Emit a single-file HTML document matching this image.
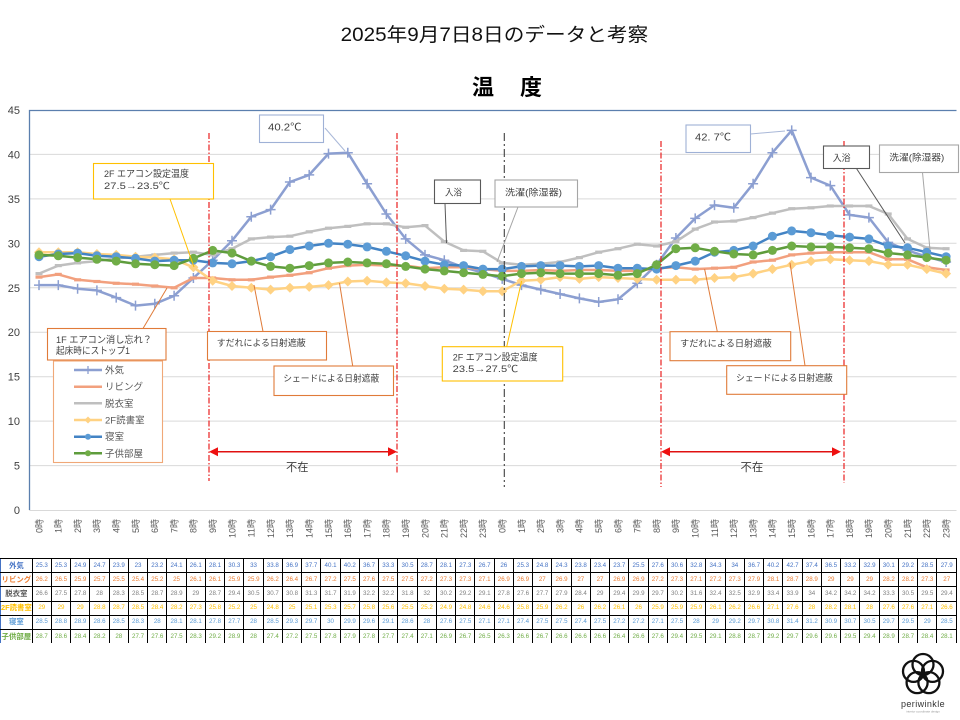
<!DOCTYPE html>
<html><head><meta charset="utf-8">
<style>
body{margin:0;width:960px;height:720px;background:#fff;overflow:hidden;position:relative;font-family:"Liberation Sans","Noto Sans CJK JP",sans-serif}
svg{position:absolute;left:0;top:0}
table{position:absolute;left:0;top:558px;width:957px;table-layout:fixed;border-collapse:collapse}
td{border:1px solid #000;padding:0;height:13.2px;text-align:center;font-size:6.2px;line-height:12px;white-space:nowrap;overflow:hidden;font-family:"Liberation Sans","Noto Sans CJK JP",sans-serif}
td.h{font-weight:bold;font-size:7.4px;border-left:1px solid #4472c4}
tr.z td{border-bottom:none}
tr.a td{color:#4472c4}
tr.b td{color:#ed7d31}
tr.c td{color:#808080}
tr.c td.h{color:#595959}
tr.d td{color:#ffc000}
tr.e td{color:#5b9bd5}
tr.f td{color:#70ad47}
</style></head><body>
<svg width="960" height="720" viewBox="0 0 960 720" xmlns="http://www.w3.org/2000/svg" font-family="'Liberation Sans','Noto Sans CJK JP',sans-serif">
<defs>
<marker id="mp" markerUnits="userSpaceOnUse" markerWidth="12" markerHeight="12" refX="6" refY="6" overflow="visible"><path d="M1 6H11M6 1V11" stroke="#8c9fd1" stroke-width="1.5" fill="none"/></marker>
<marker id="mdo" markerUnits="userSpaceOnUse" markerWidth="12" markerHeight="12" refX="6" refY="6" overflow="visible"><path d="M2.5 6H9.5" stroke="#f2a07e" stroke-width="3.2"/></marker>
<marker id="mdg" markerUnits="userSpaceOnUse" markerWidth="12" markerHeight="12" refX="6" refY="6" overflow="visible"><path d="M2.5 6H9.5" stroke="#bfbfbf" stroke-width="3.2"/></marker>
<marker id="mdi" markerUnits="userSpaceOnUse" markerWidth="12" markerHeight="12" refX="6" refY="6" overflow="visible"><path d="M6 1L11 6L6 11L1 6Z" fill="#ffd283"/></marker>
<marker id="mcb" markerUnits="userSpaceOnUse" markerWidth="12" markerHeight="12" refX="6" refY="6" overflow="visible"><circle cx="6" cy="6" r="4.5" fill="#5b9bd5"/></marker>
<marker id="mcg" markerUnits="userSpaceOnUse" markerWidth="12" markerHeight="12" refX="6" refY="6" overflow="visible"><circle cx="6" cy="6" r="4.5" fill="#70ad47"/></marker>
</defs>

<!-- titles -->
<text x="340.7" y="41" font-size="19" fill="#111" textLength="307.6" lengthAdjust="spacingAndGlyphs">2025年9月7日8日のデータと考察</text>
<text x="472" y="95" font-size="22" font-weight="bold" fill="#000">温</text>
<text x="520" y="95" font-size="22" font-weight="bold" fill="#000">度</text>

<!-- gridlines -->
<g stroke="#d9d9d9" stroke-width="1">
<line x1="29.3" y1="154.4" x2="956.5" y2="154.4"/>
<line x1="29.3" y1="198.9" x2="956.5" y2="198.9"/>
<line x1="29.3" y1="243.3" x2="956.5" y2="243.3"/>
<line x1="29.3" y1="287.8" x2="956.5" y2="287.8"/>
<line x1="29.3" y1="332.2" x2="956.5" y2="332.2"/>
<line x1="29.3" y1="376.7" x2="956.5" y2="376.7"/>
<line x1="29.3" y1="421.1" x2="956.5" y2="421.1"/>
<line x1="29.3" y1="465.6" x2="956.5" y2="465.6"/>
<line x1="29.3" y1="510.5" x2="956.5" y2="510.5"/>
</g>
<path d="M29.5 510V110.5H956.5" stroke="#5b7fae" stroke-width="1.3" fill="none"/>

<!-- y labels -->
<g font-size="11" fill="#404040" text-anchor="end">
<text x="20" y="114">45</text>
<text x="20" y="158.4">40</text>
<text x="20" y="202.9">35</text>
<text x="20" y="247.3">30</text>
<text x="20" y="291.8">25</text>
<text x="20" y="336.2">20</text>
<text x="20" y="380.7">15</text>
<text x="20" y="425.1">10</text>
<text x="20" y="469.6">5</text>
<text x="20" y="514">0</text>
</g>

<!-- series -->
<g fill="none" stroke-width="2.5" stroke-linejoin="round">
<polyline stroke="#8c9fd1" marker-start="url(#mp)" marker-mid="url(#mp)" marker-end="url(#mp)" points="39,285.1 58.3,285.1 77.6,288.7 96.9,290.4 116.2,297.6 135.5,305.6 154.8,303.8 174.1,295.8 193.4,278 212.7,260.2 232,240.7 251.3,216.7 270.6,209.6 289.9,182 309.2,174.9 328.5,153.6 347.8,152.7 367.1,183.8 386.4,214 405.7,238.9 425,254.9 444.3,260.2 463.6,267.3 482.9,272.7 502.2,278.9 521.5,285.1 540.8,289.6 560.1,294 579.4,298.4 598.7,302 618,299.3 637.3,283.3 656.6,264.7 675.9,238 695.2,218.4 714.5,205.1 733.8,207.8 753.1,183.8 772.4,152.7 791.7,130.4 811,177.6 830.3,185.6 849.6,214.9 868.9,217.6 888.2,242.4 907.5,250.4 926.8,256.7 946.1,262"/>
<polyline stroke="#f2a07e" marker-start="url(#mdo)" marker-mid="url(#mdo)" marker-end="url(#mdo)" points="39,277.1 58.3,274.4 77.6,279.8 96.9,281.5 116.2,283.3 135.5,284.2 154.8,286 174.1,287.8 193.4,278 212.7,278 232,279.8 251.3,279.8 270.6,277.1 289.9,275.3 309.2,272.7 328.5,268.2 347.8,265.6 367.1,264.7 386.4,265.6 405.7,265.6 425,268.2 444.3,267.3 463.6,267.3 482.9,269.1 502.2,270.9 521.5,270.9 540.8,270 560.1,270.9 579.4,270 598.7,270 618,270.9 637.3,270.9 656.6,268.2 675.9,267.3 695.2,269.1 714.5,268.2 733.8,267.3 753.1,262 772.4,260.2 791.7,254.9 811,253.1 830.3,252.2 849.6,252.2 868.9,252.2 888.2,259.3 907.5,259.3 926.8,267.3 946.1,270"/>
<polyline stroke="#bfbfbf" marker-start="url(#mdg)" marker-mid="url(#mdg)" marker-end="url(#mdg)" points="39,273.6 58.3,265.6 77.6,262.9 96.9,261.1 116.2,258.4 135.5,256.7 154.8,254.9 174.1,253.1 193.4,252.2 212.7,254.9 232,248.7 251.3,238.9 270.6,237.1 289.9,236.2 309.2,231.8 328.5,228.2 347.8,226.4 367.1,223.8 386.4,223.8 405.7,227.3 425,225.6 444.3,241.6 463.6,250.4 482.9,251.3 502.2,262.9 521.5,264.7 540.8,263.8 560.1,262 579.4,257.6 598.7,252.2 618,248.7 637.3,244.2 656.6,246 675.9,241.6 695.2,229.1 714.5,222 733.8,221.1 753.1,217.6 772.4,213.1 791.7,208.7 811,207.8 830.3,206 849.6,206 868.9,206 888.2,214 907.5,238.9 926.8,247.8 946.1,248.7"/>
<polyline stroke="#ffd283" marker-start="url(#mdi)" marker-mid="url(#mdi)" marker-end="url(#mdi)" points="39,252.2 58.3,252.2 77.6,252.2 96.9,254 116.2,254.9 135.5,256.7 154.8,257.6 174.1,259.3 193.4,267.3 212.7,280.7 232,286 251.3,287.8 270.6,289.6 289.9,287.8 309.2,286.9 328.5,285.1 347.8,281.5 367.1,280.7 386.4,282.4 405.7,283.3 425,286 444.3,288.7 463.6,289.6 482.9,291.3 502.2,291.3 521.5,280.7 540.8,279.8 560.1,277.1 579.4,278.9 598.7,277.1 618,278 637.3,278.9 656.6,279.8 675.9,279.8 695.2,279.8 714.5,278 733.8,277.1 753.1,273.6 772.4,269.1 791.7,264.7 811,261.1 830.3,259.3 849.6,260.2 868.9,261.1 888.2,264.7 907.5,264.7 926.8,269.1 946.1,273.6"/>
<polyline stroke="#4383c4" marker-start="url(#mcb)" marker-mid="url(#mcb)" marker-end="url(#mcb)" points="39,256.7 58.3,254 77.6,253.1 96.9,255.8 116.2,256.7 135.5,258.4 154.8,261.1 174.1,260.2 193.4,260.2 212.7,262.9 232,263.8 251.3,261.1 270.6,256.7 289.9,249.6 309.2,246 328.5,243.3 347.8,244.2 367.1,246.9 386.4,251.3 405.7,255.8 425,261.1 444.3,264.7 463.6,265.6 482.9,269.1 502.2,269.1 521.5,266.4 540.8,265.6 560.1,265.6 579.4,266.4 598.7,265.6 618,268.2 637.3,268.2 656.6,269.1 675.9,265.6 695.2,261.1 714.5,252.2 733.8,250.4 753.1,246 772.4,236.2 791.7,230.9 811,232.7 830.3,235.3 849.6,237.1 868.9,238.9 888.2,246 907.5,247.8 926.8,252.2 946.1,256.7"/>
<polyline stroke="#5e9c3c" marker-start="url(#mcg)" marker-mid="url(#mcg)" marker-end="url(#mcg)" points="39,254.9 58.3,255.8 77.6,257.6 96.9,259.3 116.2,261.1 135.5,263.8 154.8,264.7 174.1,265.6 193.4,258.4 212.7,250.4 232,253.1 251.3,261.1 270.6,266.4 289.9,268.2 309.2,265.6 328.5,262.9 347.8,262 367.1,262.9 386.4,263.8 405.7,266.4 425,269.1 444.3,270.9 463.6,272.7 482.9,274.4 502.2,276.2 521.5,273.6 540.8,272.7 560.1,273.6 579.4,273.6 598.7,273.6 618,275.3 637.3,273.6 656.6,264.7 675.9,248.7 695.2,247.8 714.5,251.3 733.8,254 753.1,254.9 772.4,250.4 791.7,246 811,246.9 830.3,246.9 849.6,247.8 868.9,248.7 888.2,253.1 907.5,254.9 926.8,257.6 946.1,260.2"/>
</g>

<!-- vertical dashed lines -->
<g stroke="#e82020" stroke-width="1.2" stroke-dasharray="6 2 1.5 2" fill="none">
<line x1="209" y1="133" x2="209" y2="481"/>
<line x1="397" y1="133" x2="397" y2="473"/>
<line x1="661" y1="141" x2="661" y2="487"/>
<line x1="844" y1="141" x2="844" y2="483"/>
</g>
<line x1="504.3" y1="133" x2="504.3" y2="487" stroke="#404040" stroke-width="1.1" stroke-dasharray="8 3 2 3"/>

<!-- arrows -->
<g stroke="#e01010" stroke-width="1.5">
<line x1="216" y1="451.7" x2="390" y2="451.7"/>
<line x1="668" y1="451.7" x2="834" y2="451.7"/>
</g>
<g fill="#ee1010">
<path d="M209 451.7L218 447.2L218 456.2Z"/>
<path d="M397 451.7L388 447.2L388 456.2Z"/>
<path d="M661 451.7L670 447.2L670 456.2Z"/>
<path d="M841 451.7L832 447.2L832 456.2Z"/>
</g>
<g font-size="11.5" fill="#404040">
<text x="286" y="471" textLength="22.5" lengthAdjust="spacingAndGlyphs">不在</text>
<text x="740.5" y="471" textLength="22.8" lengthAdjust="spacingAndGlyphs">不在</text>
</g>

<!-- leader lines -->
<g fill="none" stroke-width="1">
<line x1="325" y1="128" x2="345" y2="151" stroke="#a9b8d8"/>
<line x1="750.5" y1="134" x2="785" y2="131" stroke="#a9b8d8"/>
<line x1="445" y1="203.5" x2="446.5" y2="243" stroke="#595959"/>
<line x1="518" y1="207" x2="497" y2="262" stroke="#a6a6a6"/>
<line x1="856.5" y1="168.5" x2="905" y2="243" stroke="#595959"/>
<line x1="922.5" y1="172.5" x2="930" y2="250" stroke="#a6a6a6"/>
<line x1="170" y1="199" x2="194" y2="267" stroke="#ffc000"/>
<line x1="143" y1="328.5" x2="167" y2="288" stroke="#e07b39"/>
<line x1="263" y1="331.5" x2="254" y2="285" stroke="#e07b39"/>
<line x1="352.7" y1="366" x2="339.5" y2="283" stroke="#e07b39"/>
<line x1="717.3" y1="331.7" x2="704.6" y2="269" stroke="#e07b39"/>
<line x1="805" y1="365.7" x2="790" y2="262.7" stroke="#e07b39"/>
<line x1="506.7" y1="346.7" x2="521.6" y2="281" stroke="#ffc000"/>
</g>

<!-- annotation boxes -->
<g fill="#fff" stroke-width="1.1">
<rect x="259.5" y="115" width="64" height="27.5" stroke="#9fb1d6"/>
<rect x="686" y="125" width="64.5" height="27.5" stroke="#9fb1d6"/>
<rect x="434.5" y="180" width="46" height="23.5" stroke="#595959"/>
<rect x="495" y="180" width="82.5" height="27" stroke="#a6a6a6"/>
<rect x="823.5" y="146" width="46" height="22.5" stroke="#595959"/>
<rect x="879.5" y="145" width="79" height="27.5" stroke="#a6a6a6"/>
<rect x="93.5" y="163.5" width="120" height="35.5" stroke="#ffc000"/>
<rect x="47.5" y="328.5" width="118.5" height="31.5" stroke="#e07b39"/>
<rect x="53.5" y="361" width="109" height="101.5" stroke="#f0a878"/>
<rect x="207.5" y="331.5" width="119" height="28.5" stroke="#e07b39"/>
<rect x="274" y="366" width="119.5" height="29.5" stroke="#e07b39"/>
<rect x="670" y="331.7" width="120.7" height="29" stroke="#e07b39"/>
<rect x="726.7" y="365.7" width="120" height="28.6" stroke="#e07b39"/>
<rect x="442.3" y="346.7" width="120.4" height="34.3" stroke="#ffc000"/>
</g>
<g font-size="10" fill="#404040" lengthAdjust="spacingAndGlyphs">
<text x="268" y="130.5" textLength="33.5" lengthAdjust="spacingAndGlyphs">40.2℃</text>
<text x="695" y="140.5" textLength="36" lengthAdjust="spacingAndGlyphs">42. 7℃</text>
<text x="445" y="195.5" font-size="9" textLength="17" lengthAdjust="spacingAndGlyphs">入浴</text>
<text x="505" y="195.5" font-size="9" textLength="57" lengthAdjust="spacingAndGlyphs">洗濯(除湿器)</text>
<text x="832.7" y="161" font-size="9" textLength="18" lengthAdjust="spacingAndGlyphs">入浴</text>
<text x="889.3" y="160.5" font-size="9" textLength="55" lengthAdjust="spacingAndGlyphs">洗濯(除湿器)</text>
<text x="104" y="177" font-size="9.5" textLength="85" lengthAdjust="spacingAndGlyphs">2F エアコン設定温度</text>
<text x="104" y="189" font-size="9.5" textLength="66" lengthAdjust="spacingAndGlyphs">27.5→23.5℃</text>
<text x="56" y="343" font-size="9.5" textLength="96" lengthAdjust="spacingAndGlyphs">1F エアコン消し忘れ？</text>
<text x="56" y="354" font-size="9.5" textLength="74" lengthAdjust="spacingAndGlyphs">起床時にストップ1</text>
<text x="216.7" y="346" font-size="9" textLength="89" lengthAdjust="spacingAndGlyphs">すだれによる日射遮蔽</text>
<text x="283.3" y="381.5" font-size="9" textLength="96" lengthAdjust="spacingAndGlyphs">シェードによる日射遮蔽</text>
<text x="680" y="346.5" font-size="9" textLength="91.7" lengthAdjust="spacingAndGlyphs">すだれによる日射遮蔽</text>
<text x="736" y="381" font-size="9" textLength="96.7" lengthAdjust="spacingAndGlyphs">シェードによる日射遮蔽</text>
<text x="452.7" y="360.5" font-size="9.5" textLength="85" lengthAdjust="spacingAndGlyphs">2F エアコン設定温度</text>
<text x="452.7" y="372" font-size="9.5" textLength="65.6" lengthAdjust="spacingAndGlyphs">23.5→27.5℃</text>
</g>

<!-- legend -->
<g stroke-width="2.5" fill="none">
<line x1="74" y1="370" x2="102" y2="370" stroke="#8c9fd1"/>
<path d="M88 366V374" stroke="#8c9fd1" stroke-width="1.3"/>
<line x1="74" y1="386.7" x2="102" y2="386.7" stroke="#f2a07e"/>
<line x1="74" y1="403.3" x2="102" y2="403.3" stroke="#bfbfbf"/>
<line x1="74" y1="420" x2="102" y2="420" stroke="#ffd283"/>
<line x1="74" y1="436.7" x2="102" y2="436.7" stroke="#4383c4"/>
<line x1="74" y1="453.3" x2="102" y2="453.3" stroke="#5e9c3c"/>
</g>
<path d="M88 416.5L91.5 420L88 423.5L84.5 420Z" fill="#ffd283"/>
<circle cx="88" cy="436.7" r="3" fill="#5b9bd5"/>
<circle cx="88" cy="453.3" r="3" fill="#70ad47"/>
<g font-size="9.5" fill="#595959">
<text x="105" y="373.5">外気</text>
<text x="105" y="390">リビング</text>
<text x="105" y="406.8">脱衣室</text>
<text x="105" y="423.5">2F読書室</text>
<text x="105" y="440.2">寝室</text>
<text x="105" y="456.8">子供部屋</text>
</g>

<!-- x labels -->
<g transform="rotate(-90)" font-size="9" fill="#595959" text-anchor="end">
<text x="-519" y="42.3">0時</text><text x="-519" y="61.6">1時</text><text x="-519" y="80.9">2時</text><text x="-519" y="100.2">3時</text><text x="-519" y="119.5">4時</text><text x="-519" y="138.8">5時</text><text x="-519" y="158.1">6時</text><text x="-519" y="177.4">7時</text><text x="-519" y="196.7">8時</text><text x="-519" y="216">9時</text><text x="-519" y="235.3">10時</text><text x="-519" y="254.6">11時</text><text x="-519" y="273.9">12時</text><text x="-519" y="293.2">13時</text><text x="-519" y="312.5">14時</text><text x="-519" y="331.8">15時</text><text x="-519" y="351.1">16時</text><text x="-519" y="370.4">17時</text><text x="-519" y="389.7">18時</text><text x="-519" y="409">19時</text><text x="-519" y="428.3">20時</text><text x="-519" y="447.6">21時</text><text x="-519" y="466.9">22時</text><text x="-519" y="486.2">23時</text>
<text x="-519" y="505.5">0時</text><text x="-519" y="524.8">1時</text><text x="-519" y="544.1">2時</text><text x="-519" y="563.4">3時</text><text x="-519" y="582.7">4時</text><text x="-519" y="602">5時</text><text x="-519" y="621.3">6時</text><text x="-519" y="640.6">7時</text><text x="-519" y="659.9">8時</text><text x="-519" y="679.2">9時</text><text x="-519" y="698.5">10時</text><text x="-519" y="717.8">11時</text><text x="-519" y="737.1">12時</text><text x="-519" y="756.4">13時</text><text x="-519" y="775.7">14時</text><text x="-519" y="795">15時</text><text x="-519" y="814.3">16時</text><text x="-519" y="833.6">17時</text><text x="-519" y="852.9">18時</text><text x="-519" y="872.2">19時</text><text x="-519" y="891.5">20時</text><text x="-519" y="910.8">21時</text><text x="-519" y="930.1">22時</text><text x="-519" y="949.4">23時</text>
</g>

<!-- logo -->
<g fill="none" stroke="#111" stroke-width="2.3">
<circle cx="923" cy="664.5" r="10.5"/>
<circle cx="932.5" cy="671.4" r="10.5"/>
<circle cx="928.9" cy="682.6" r="10.5"/>
<circle cx="917.1" cy="682.6" r="10.5"/>
<circle cx="913.5" cy="671.4" r="10.5"/>
</g>
<text x="923" y="707" font-size="9" fill="#333" text-anchor="middle" letter-spacing="0.4">periwinkle</text>
<text x="923" y="712.5" font-size="3" fill="#999" text-anchor="middle">interior coordinate design</text>
</svg>

<table>
<colgroup><col style="width:31.7px"><col span="48"></colgroup>
<tr class="a"><td class="h">外気</td><td>25.3</td><td>25.3</td><td>24.9</td><td>24.7</td><td>23.9</td><td>23</td><td>23.2</td><td>24.1</td><td>26.1</td><td>28.1</td><td>30.3</td><td>33</td><td>33.8</td><td>36.9</td><td>37.7</td><td>40.1</td><td>40.2</td><td>36.7</td><td>33.3</td><td>30.5</td><td>28.7</td><td>28.1</td><td>27.3</td><td>26.7</td><td>26</td><td>25.3</td><td>24.8</td><td>24.3</td><td>23.8</td><td>23.4</td><td>23.7</td><td>25.5</td><td>27.6</td><td>30.6</td><td>32.8</td><td>34.3</td><td>34</td><td>36.7</td><td>40.2</td><td>42.7</td><td>37.4</td><td>36.5</td><td>33.2</td><td>32.9</td><td>30.1</td><td>29.2</td><td>28.5</td><td>27.9</td></tr>
<tr class="b"><td class="h">リビング</td><td>26.2</td><td>26.5</td><td>25.9</td><td>25.7</td><td>25.5</td><td>25.4</td><td>25.2</td><td>25</td><td>26.1</td><td>26.1</td><td>25.9</td><td>25.9</td><td>26.2</td><td>26.4</td><td>26.7</td><td>27.2</td><td>27.5</td><td>27.6</td><td>27.5</td><td>27.5</td><td>27.2</td><td>27.3</td><td>27.3</td><td>27.1</td><td>26.9</td><td>26.9</td><td>27</td><td>26.9</td><td>27</td><td>27</td><td>26.9</td><td>26.9</td><td>27.2</td><td>27.3</td><td>27.1</td><td>27.2</td><td>27.3</td><td>27.9</td><td>28.1</td><td>28.7</td><td>28.9</td><td>29</td><td>29</td><td>29</td><td>28.2</td><td>28.2</td><td>27.3</td><td>27</td></tr>
<tr class="c"><td class="h">脱衣室</td><td>26.6</td><td>27.5</td><td>27.8</td><td>28</td><td>28.3</td><td>28.5</td><td>28.7</td><td>28.9</td><td>29</td><td>28.7</td><td>29.4</td><td>30.5</td><td>30.7</td><td>30.8</td><td>31.3</td><td>31.7</td><td>31.9</td><td>32.2</td><td>32.2</td><td>31.8</td><td>32</td><td>30.2</td><td>29.2</td><td>29.1</td><td>27.8</td><td>27.6</td><td>27.7</td><td>27.9</td><td>28.4</td><td>29</td><td>29.4</td><td>29.9</td><td>29.7</td><td>30.2</td><td>31.6</td><td>32.4</td><td>32.5</td><td>32.9</td><td>33.4</td><td>33.9</td><td>34</td><td>34.2</td><td>34.2</td><td>34.2</td><td>33.3</td><td>30.5</td><td>29.5</td><td>29.4</td></tr>
<tr class="d"><td class="h">2F読書室</td><td>29</td><td>29</td><td>29</td><td>28.8</td><td>28.7</td><td>28.5</td><td>28.4</td><td>28.2</td><td>27.3</td><td>25.8</td><td>25.2</td><td>25</td><td>24.8</td><td>25</td><td>25.1</td><td>25.3</td><td>25.7</td><td>25.8</td><td>25.6</td><td>25.5</td><td>25.2</td><td>24.9</td><td>24.8</td><td>24.6</td><td>24.6</td><td>25.8</td><td>25.9</td><td>26.2</td><td>26</td><td>26.2</td><td>26.1</td><td>26</td><td>25.9</td><td>25.9</td><td>25.9</td><td>26.1</td><td>26.2</td><td>26.6</td><td>27.1</td><td>27.6</td><td>28</td><td>28.2</td><td>28.1</td><td>28</td><td>27.6</td><td>27.6</td><td>27.1</td><td>26.6</td></tr>
<tr class="e"><td class="h">寝室</td><td>28.5</td><td>28.8</td><td>28.9</td><td>28.6</td><td>28.5</td><td>28.3</td><td>28</td><td>28.1</td><td>28.1</td><td>27.8</td><td>27.7</td><td>28</td><td>28.5</td><td>29.3</td><td>29.7</td><td>30</td><td>29.9</td><td>29.6</td><td>29.1</td><td>28.6</td><td>28</td><td>27.6</td><td>27.5</td><td>27.1</td><td>27.1</td><td>27.4</td><td>27.5</td><td>27.5</td><td>27.4</td><td>27.5</td><td>27.2</td><td>27.2</td><td>27.1</td><td>27.5</td><td>28</td><td>29</td><td>29.2</td><td>29.7</td><td>30.8</td><td>31.4</td><td>31.2</td><td>30.9</td><td>30.7</td><td>30.5</td><td>29.7</td><td>29.5</td><td>29</td><td>28.5</td></tr>
<tr class="f z"><td class="h">子供部屋</td><td>28.7</td><td>28.6</td><td>28.4</td><td>28.2</td><td>28</td><td>27.7</td><td>27.6</td><td>27.5</td><td>28.3</td><td>29.2</td><td>28.9</td><td>28</td><td>27.4</td><td>27.2</td><td>27.5</td><td>27.8</td><td>27.9</td><td>27.8</td><td>27.7</td><td>27.4</td><td>27.1</td><td>26.9</td><td>26.7</td><td>26.5</td><td>26.3</td><td>26.6</td><td>26.7</td><td>26.6</td><td>26.6</td><td>26.6</td><td>26.4</td><td>26.6</td><td>27.6</td><td>29.4</td><td>29.5</td><td>29.1</td><td>28.8</td><td>28.7</td><td>29.2</td><td>29.7</td><td>29.6</td><td>29.6</td><td>29.5</td><td>29.4</td><td>28.9</td><td>28.7</td><td>28.4</td><td>28.1</td></tr>
</table>
</body></html>
